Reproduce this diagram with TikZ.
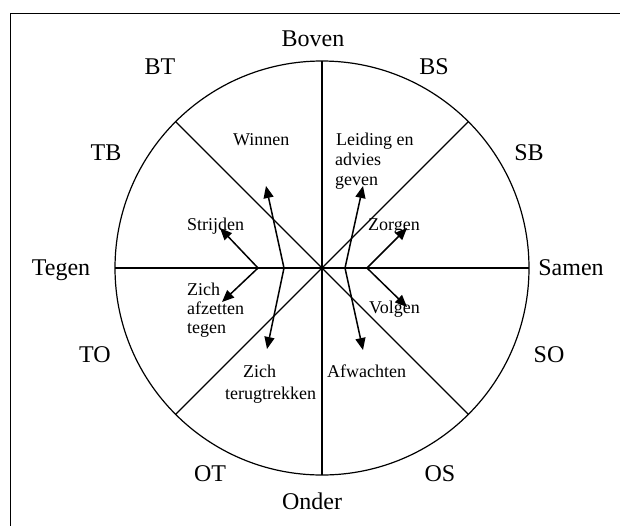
\documentclass[tikz,border=0pt]{standalone}
\usepackage{fontspec}
\setmainfont{Liberation Serif}
\usetikzlibrary{arrows.meta}
\begin{document}
\begin{tikzpicture}[x=1pt,y=-1pt,
  outer/.style={font=\fontsize{24}{28}\selectfont, anchor=base, inner sep=0pt},
  lbl/.style={font=\fontsize{18}{20}\selectfont, anchor=base west, inner sep=0pt},
  arr/.style={line width=1.5pt, -{Triangle[length=12pt,width=10pt]}},
  ln/.style={line width=1.2pt}]
\useasboundingbox (0,0) rectangle (620,525);
\clip (0,0) rectangle (620,525);
\fill[white] (0,0) rectangle (620,525);
\draw[line width=1pt] (10,13) rectangle (640,545);
% circle and sector lines
\node[circle, draw, ln, inner sep=0pt, outer sep=0pt, minimum size=414pt] (C) at (322,268) {};
\draw[ln] (C.north) -- (C.south);
\draw[ln] (C.west) -- (C.east);
\draw[ln] (C.135) -- (C.-45);
\draw[ln] (C.45) -- (C.-135);
% outer labels
\node[outer] (boven) at (313,46) {Boven};
\node[outer] (bt) at (160,74) {BT};
\node[outer] (bs) at (434,74) {BS};
\node[outer] (tb) at (106,160) {TB};
\node[outer] (sb) at (529,160) {SB};
\node[outer] (tegen) at (61,275) {Tegen};
\node[outer] (samen) at (571,275) {Samen};
\node[outer] (to) at (95,362) {TO};
\node[outer] (so) at (549,362) {SO};
\node[outer] (ot) at (210,481) {OT};
\node[outer] (os) at (440,481) {OS};
\node[outer] (onder) at (312,509) {Onder};
% inner labels
\node[lbl] (winnen) at (233,145) {Winnen};
\node[lbl] (leid1) at (336,145) {Leiding en};
\node[lbl] (leid2) at (335,165) {advies};
\node[lbl] (leid3) at (335,185) {geven};
\node[lbl] (strijden) at (187,230) {Strijden};
\node[lbl] (zorgen) at (368,230) {Zorgen};
\node[lbl] (afz1) at (187,295) {Zich};
\node[lbl] (afz2) at (187,314) {afzetten};
\node[lbl] (afz3) at (187,333) {tegen};
\node[lbl] (volgen) at (369,313) {Volgen};
\node[lbl] (terug1) at (243,377) {Zich};
\node[lbl] (terug2) at (225,399) {terugtrekken};
\node[lbl] (afw) at (327,377) {Afwachten};
% arrow vertices and tips
\coordinate (vw) at (284,268);
\coordinate (tw) at (266,186);
\coordinate (tt) at (267,349);
\coordinate (vs) at (258,268);
\coordinate (ts) at (220,228);
\coordinate (ta) at (222,302);
\coordinate (vl) at (345,268);
\coordinate (tl) at (363,186);
\coordinate (tf) at (363,350);
\coordinate (vz) at (367,268);
\coordinate (tz) at (407,228);
\coordinate (tv) at (407,307);
\draw[arr] (vw) -- (tw);
\draw[arr] (vw) -- (tt);
\draw[arr] (vs) -- (ts);
\draw[arr] (vs) -- (ta);
\draw[arr] (vl) -- (tl);
\draw[arr] (vl) -- (tf);
\draw[arr] (vz) -- (tz);
\draw[arr] (vz) -- (tv);
\end{tikzpicture}
\end{document}
